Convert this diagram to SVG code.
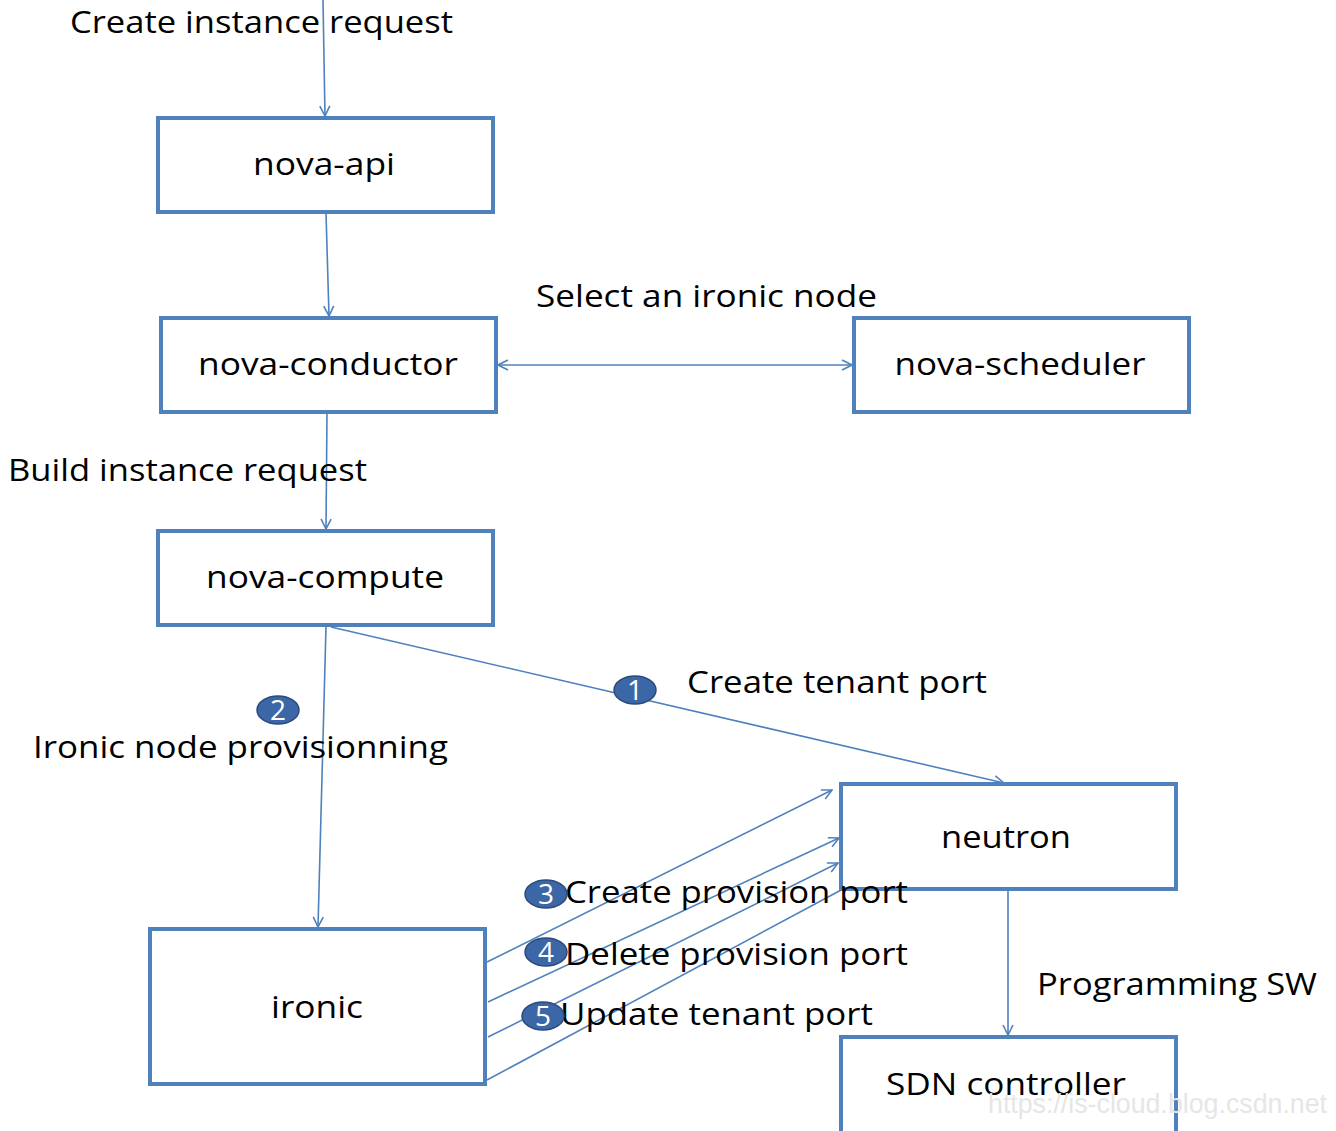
<svg xmlns="http://www.w3.org/2000/svg" width="1336" height="1131" viewBox="0 0 1336 1131">
<style>
.box{fill:#fff;stroke:#4F81BD;stroke-width:4}
.lbl{font-family:"Open Sans","DejaVu Sans",sans-serif;font-size:31px;fill:#000}
.c{text-anchor:middle}
.ln{stroke:#4F81BD;stroke-width:1.6;fill:none}
.bd{fill:#3C67A6;stroke:#2A4B7C;stroke-width:1.5}
.bn{font-family:"Open Sans","DejaVu Sans",sans-serif;font-size:28px;fill:#fff;text-anchor:middle}
</style>
<defs>
<marker id="ah" viewBox="0 0 12 12" refX="11" refY="6" markerWidth="12" markerHeight="12" markerUnits="userSpaceOnUse" orient="auto-start-reverse">
<path d="M1,1 L11,6 L1,11" fill="none" stroke="#4F81BD" stroke-width="1.6"/>
</marker>
</defs>
<rect width="1336" height="1131" fill="#fff"/>
<g id="connectors">
<line class="ln" x1="323" y1="0" x2="325" y2="116" marker-end="url(#ah)"/>
<line class="ln" x1="326" y1="213" x2="329" y2="316" marker-end="url(#ah)"/>
<line class="ln" x1="498" y1="365" x2="852" y2="365" marker-start="url(#ah)" marker-end="url(#ah)"/>
<line class="ln" x1="327" y1="413" x2="326" y2="529" marker-end="url(#ah)"/>
<line class="ln" x1="331" y1="627" x2="1004" y2="783" marker-end="url(#ah)"/>
<line class="ln" x1="326" y1="627" x2="318" y2="927" marker-end="url(#ah)"/>
<line class="ln" x1="487" y1="962" x2="832" y2="790" marker-end="url(#ah)"/>
<line class="ln" x1="488" y1="1002" x2="839" y2="838" marker-end="url(#ah)"/>
<line class="ln" x1="488" y1="1037" x2="838" y2="863" marker-end="url(#ah)"/>
<line class="ln" x1="487" y1="1080" x2="843" y2="889"/>
<line class="ln" x1="1008" y1="891" x2="1008" y2="1035" marker-end="url(#ah)"/>
</g>
<g id="nova-api"><rect class="box" x="158" y="118" width="335" height="94"/><text class="lbl c" x="324" y="175" textLength="142" lengthAdjust="spacingAndGlyphs">nova-api</text></g>
<g id="nova-conductor"><rect class="box" x="161" y="318" width="335" height="94"/><text class="lbl c" x="328" y="375" textLength="260" lengthAdjust="spacingAndGlyphs">nova-conductor</text></g>
<g id="nova-scheduler"><rect class="box" x="854" y="318" width="335" height="94"/><text class="lbl c" x="1020" y="375" textLength="251" lengthAdjust="spacingAndGlyphs">nova-scheduler</text></g>
<g id="nova-compute"><rect class="box" x="158" y="531" width="335" height="94"/><text class="lbl c" x="325" y="588" textLength="238" lengthAdjust="spacingAndGlyphs">nova-compute</text></g>
<g id="neutron"><rect class="box" x="841" y="784" width="335" height="105"/><text class="lbl c" x="1006" y="848" textLength="130" lengthAdjust="spacingAndGlyphs">neutron</text></g>
<g id="ironic"><rect class="box" x="150" y="929" width="335" height="155"/><text class="lbl c" x="317" y="1018" textLength="92" lengthAdjust="spacingAndGlyphs">ironic</text></g>
<g id="sdn-controller"><rect class="box" x="841" y="1037" width="335" height="98"/><text class="lbl c" x="1006" y="1095" textLength="240" lengthAdjust="spacingAndGlyphs">SDN controller</text></g>
<g id="labels">
<text class="lbl" x="70" y="33" textLength="383" lengthAdjust="spacingAndGlyphs">Create instance request</text>
<text class="lbl" x="536" y="307" textLength="341" lengthAdjust="spacingAndGlyphs">Select an ironic node</text>
<text class="lbl" x="8" y="481" textLength="359" lengthAdjust="spacingAndGlyphs">Build instance request</text>
<text class="lbl" x="687" y="693" textLength="300" lengthAdjust="spacingAndGlyphs">Create tenant port</text>
<text class="lbl" x="33" y="758" textLength="415" lengthAdjust="spacingAndGlyphs">Ironic node provisionning</text>
<text class="lbl" x="565" y="903" textLength="343" lengthAdjust="spacingAndGlyphs">Create provision port</text>
<text class="lbl" x="565" y="965" textLength="343" lengthAdjust="spacingAndGlyphs">Delete provision port</text>
<text class="lbl" x="560" y="1025" textLength="313" lengthAdjust="spacingAndGlyphs">Update tenant port</text>
<text class="lbl" x="1037" y="995" textLength="280" lengthAdjust="spacingAndGlyphs">Programming SW</text>
<text x="988" y="1113" font-family="'Liberation Sans',Arial,sans-serif" font-size="27" fill="#E6E6E6" textLength="339" lengthAdjust="spacingAndGlyphs">https://is-cloud.blog.csdn.net</text>
</g>
<g id="badges">
<ellipse class="bd" cx="635" cy="690" rx="21" ry="14"/><text class="bn" x="635" y="700">1</text>
<ellipse class="bd" cx="278" cy="710" rx="21" ry="14"/><text class="bn" x="278" y="720">2</text>
<ellipse class="bd" cx="546" cy="894" rx="21" ry="14"/><text class="bn" x="546" y="904">3</text>
<ellipse class="bd" cx="546" cy="952" rx="21" ry="14"/><text class="bn" x="546" y="962">4</text>
<ellipse class="bd" cx="543" cy="1016" rx="21" ry="14"/><text class="bn" x="543" y="1026">5</text>
</g>
</svg>
